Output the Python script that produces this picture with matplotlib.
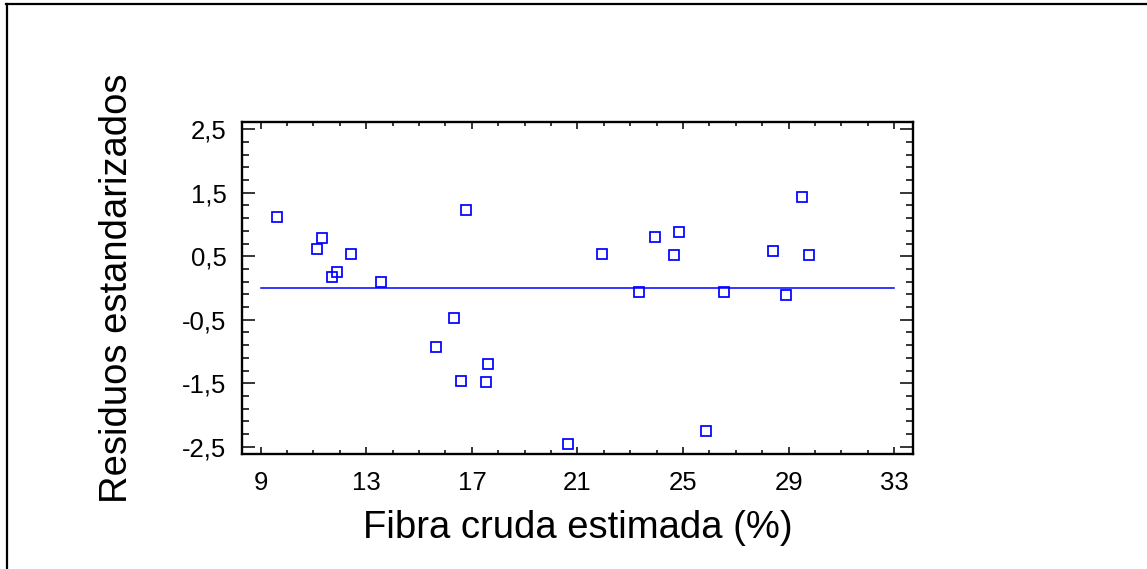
import matplotlib
matplotlib.use("Agg")
import matplotlib.pyplot as plt
from matplotlib.lines import Line2D
from matplotlib.ticker import FixedLocator, MultipleLocator, FuncFormatter

plt.rcParams['font.family'] = ['Liberation Sans', 'DejaVu Sans']

# Data
fibra = [9.62, 11.13, 11.33, 11.71, 11.90, 12.41, 13.55, 15.64, 16.33, 16.59,
         16.78, 17.53, 17.60, 20.65, 21.92, 23.32, 23.95, 24.64, 24.84, 25.86,
         26.54, 28.39, 28.90, 29.51, 29.78]
residuos = [1.12, 0.62, 0.78, 0.18, 0.25, 0.54, 0.09, -0.925, -0.48, -1.46,
            1.23, -1.48, -1.19, -2.46, 0.54, -0.067, 0.81, 0.52, 0.88, -2.26,
            -0.067, 0.59, -0.11, 1.44, 0.52]
ref_x = [9, 33]
ref_y = [0, 0]
xticks = [9, 13, 17, 21, 25, 29, 33]
yticks = [-2.5, -1.5, -0.5, 0.5, 1.5, 2.5]
xlabel = "Fibra cruda estimada (%)"
ylabel = "Residuos estandarizados"

W, H = 1147, 569
fig = plt.figure(figsize=(W / 100, H / 100), dpi=100)
fig.patch.set_facecolor('white')

ax = fig.add_axes([241.7 / W, 1 - 454 / H, (912.7 - 241.7) / W, (454 - 122.3) / H])

blue = '#0000FF'
ax.plot(ref_x, ref_y, color=blue, lw=1.1, zorder=2)
ax.plot(fibra, residuos, linestyle='none', marker='s', markersize=7.6,
        markerfacecolor='none', markeredgecolor=blue, markeredgewidth=1.25, zorder=3)

ax.set_xlim(8.28, 33.70)
ax.set_ylim(-2.615, 2.61)

ax.xaxis.set_major_locator(FixedLocator(xticks))
ax.xaxis.set_minor_locator(MultipleLocator(1))
ax.yaxis.set_major_locator(FixedLocator(yticks))
ax.yaxis.set_minor_locator(FixedLocator([v / 10 for v in range(-25, 26, 2)]))

fmt = FuncFormatter(lambda v, p: (f"{v:g}").replace('.', ','))
ax.xaxis.set_major_formatter(fmt)
ax.yaxis.set_major_formatter(fmt)

for s in ax.spines.values():
    s.set_linewidth(1.7)
    s.set_color('black')

ax.tick_params(axis='x', which='major', direction='in', top=True, bottom=True,
               length=5, width=1.1, labelsize=18.5, pad=12)
ax.tick_params(axis='x', which='minor', direction='in', top=True, bottom=True,
               length=2.8, width=1.1)
ax.tick_params(axis='y', which='major', direction='in', left=True, right=True,
               length=9.5, width=1.1, labelsize=18.5, pad=11)
ax.tick_params(axis='y', which='minor', direction='in', left=True, right=True,
               length=5, width=1.1)

fig.text(578 / W, 1 - 538 / H, xlabel, fontsize=27.5, ha='center', va='baseline')
fig.text(117 / W, 1 - 288.5 / H, ylabel, fontsize=27.5, ha='center', va='center',
         rotation=90)

# outer frame (top and left only)
fig.add_artist(Line2D([6 / W, 1.0], [1 - 4 / H, 1 - 4 / H], color='black', lw=1.6,
                      transform=fig.transFigure))
fig.add_artist(Line2D([7 / W, 7 / W], [0.0, 1 - 4 / H], color='black', lw=1.6,
                      transform=fig.transFigure))

fig.savefig('out.png', dpi=100)
